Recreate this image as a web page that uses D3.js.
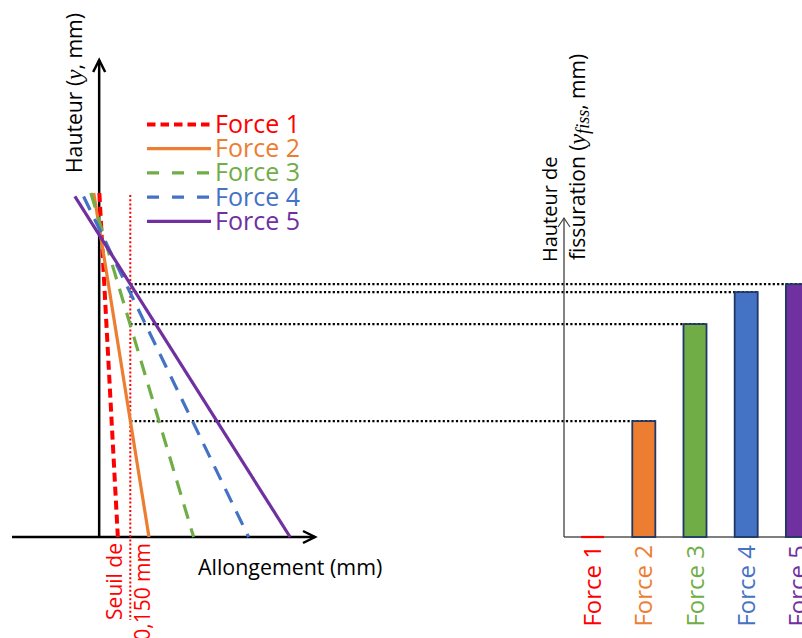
<!DOCTYPE html>
<html>
<head>
<meta charset="utf-8">
<script src="https://cdn.jsdelivr.net/npm/d3@7"></script>
<style>
  html, body { margin: 0; padding: 0; background: #fff; }
  svg { display: block; font-family: "Open Sans", sans-serif; }
</style>
</head>
<body>
<script>
// ---------- data ----------
const forces = ["Force 1", "Force 2", "Force 3", "Force 4", "Force 5"];
// elongation profile (mm) at the top and at the base of the section
const topHeight = [100, 100, 100, 99, 99];
const topElongation = [0.001, -0.026, -0.04, -0.075, -0.117];
const baseElongation = [0.09, 0.24, 0.455, 0.72, 0.92];
// crack height for each force (same height units)
const crackHeight = [0, 33.7, 61.9, 71.2, 73.5];
const threshold = 0.150;
const thresholdLabel = ["Seuil de", "0,150 mm"];

// ---------- styles ----------
const colors = ["#FF0000", "#ED7D31", "#70AD47", "#4472C4", "#7030A0"];
const dashArr = ["9,5", null, "15,10", "15,10", null];
const widths = [4, 3.2, 3.2, 3.2, 3.2];

const W = 802, H = 638;
const svg = d3.select("body").append("svg").attr("width", W).attr("height", H);

// ---------- scales ----------
const xL = d3.scaleLinear().domain([-0.42, 1.04]).range([12, 315]);
const yH = d3.scaleLinear().domain([0, 100]).range([537, 193]);
const xB = d3.scaleBand().domain(forces).range([567, 823]).paddingInner(0.55).paddingOuter(0.275);

// ---------- left chart ----------
const x0 = xL(0), yBase = yH(0);
// x-axis
svg.append("line").attr("x1", xL.range()[0]).attr("x2", xL.range()[1]).attr("y1", yBase).attr("y2", yBase)
  .attr("stroke", "#000").attr("stroke-width", 2.5);
svg.append("path").attr("d", `M${xL.range()[1]-12},${yBase-6}L${xL.range()[1]},${yBase}L${xL.range()[1]-12},${yBase+6}`)
  .attr("fill", "none").attr("stroke", "#000").attr("stroke-width", 2.5);
// y-axis
const yTop = 60;
svg.append("line").attr("x1", x0).attr("x2", x0).attr("y1", yBase).attr("y2", yTop)
  .attr("stroke", "#000").attr("stroke-width", 2.5);
svg.append("path").attr("d", `M${x0-6},${yTop+12}L${x0},${yTop}L${x0+6},${yTop+12}`)
  .attr("fill", "none").attr("stroke", "#000").attr("stroke-width", 2.5);

// threshold line
svg.append("line").attr("x1", xL(threshold)).attr("x2", xL(threshold))
  .attr("y1", 195).attr("y2", 620)
  .attr("stroke", "#FF0000").attr("stroke-width", 2).attr("stroke-dasharray", "2,2.2");

// dotted horizontal guides (drawn before bars)
forces.forEach((f, i) => {
  if (crackHeight[i] <= 0) return;
  svg.append("line")
    .attr("x1", xL(threshold)).attr("x2", Math.min(W, xB(f) + xB.bandwidth()))
    .attr("y1", yH(crackHeight[i])).attr("y2", yH(crackHeight[i]))
    .attr("stroke", "#000").attr("stroke-width", 2.2).attr("stroke-dasharray", "2.2,2.2");
});

// profile lines
forces.forEach((f, i) => {
  svg.append("line")
    .attr("x1", xL(topElongation[i])).attr("y1", yH(topHeight[i]))
    .attr("x2", xL(baseElongation[i])).attr("y2", yH(0))
    .attr("stroke", colors[i]).attr("stroke-width", widths[i])
    .attr("stroke-dasharray", dashArr[i]);
});

// axis labels
const yl = svg.append("text").attr("transform", "translate(82,173) rotate(-90)")
  .attr("font-size", 21.2).attr("fill", "#000");
yl.append("tspan").text("Hauteur (");
yl.append("tspan").text("y").attr("font-family", "'Liberation Serif', serif").attr("font-style", "italic").attr("font-size", 23);
yl.append("tspan").text(", mm)");

svg.append("text").attr("x", 198).attr("y", 575).attr("font-size", 21.4).attr("fill", "#000")
  .text("Allongement (mm)");

thresholdLabel.forEach((t, k) => {
  svg.append("text").attr("transform", `translate(${122 + 28 * k},543) rotate(-90)`)
    .attr("text-anchor", "end").attr("font-size", 21).attr("fill", "#FF0000").text(t);
});

// legend
forces.forEach((f, i) => {
  const ly = 124.5 + 24.2 * i;
  svg.append("line").attr("x1", 147).attr("x2", 211).attr("y1", ly).attr("y2", ly)
    .attr("stroke", colors[i]).attr("stroke-width", widths[i])
    .attr("stroke-dasharray", dashArr[i] ? (i === 0 ? "8.5,5" : "12,13") : null);
  svg.append("text").attr("x", 215).attr("y", ly + 8.5).attr("font-size", 25)
    .attr("fill", colors[i]).text(f);
});

// ---------- right chart (bars) ----------
const bx = 564;
svg.append("line").attr("x1", bx).attr("x2", W).attr("y1", yBase).attr("y2", yBase)
  .attr("stroke", "#7F7F7F").attr("stroke-width", 2);
svg.append("line").attr("x1", bx).attr("x2", bx).attr("y1", yBase).attr("y2", 218)
  .attr("stroke", "#404040").attr("stroke-width", 1.3);
svg.append("path").attr("d", `M${bx-6},${227}L${bx},${218}L${bx+6},${227}`)
  .attr("fill", "none").attr("stroke", "#404040").attr("stroke-width", 1.2);

forces.forEach((f, i) => {
  const v = crackHeight[i];
  if (v > 0) {
    svg.append("rect").attr("x", xB(f)).attr("y", yH(v))
      .attr("width", xB.bandwidth()).attr("height", yH(0) - yH(v))
      .attr("fill", colors[i]).attr("stroke", "#1F3864").attr("stroke-width", 1.8);
  } else {
    svg.append("line").attr("x1", xB(f)).attr("x2", xB(f) + xB.bandwidth())
      .attr("y1", yH(0)).attr("y2", yH(0))
      .attr("stroke", colors[i]).attr("stroke-width", 2.2);
  }
  svg.append("text")
    .attr("transform", `translate(${xB(f) + xB.bandwidth() / 2 + 8.5},545) rotate(-90)`)
    .attr("text-anchor", "end").attr("font-size", 24).attr("fill", colors[i]).text(f);
});

// bar axis label
svg.append("text").attr("transform", "translate(557,262) rotate(-90)")
  .attr("font-size", 20).attr("fill", "#000").text("Hauteur de");
const fl = svg.append("text").attr("transform", "translate(585,260) rotate(-90)")
  .attr("font-size", 21).attr("fill", "#000");
fl.append("tspan").text("fissuration (");
fl.append("tspan").text("y").attr("font-family", "'Liberation Serif', serif").attr("font-style", "italic").attr("font-size", 24);
fl.append("tspan").text("fiss").attr("font-family", "'Liberation Serif', serif").attr("font-style", "italic")
  .attr("font-size", 18).attr("dy", 4);
fl.append("tspan").text(", mm)").attr("dy", -4);
</script>
</body>
</html>
